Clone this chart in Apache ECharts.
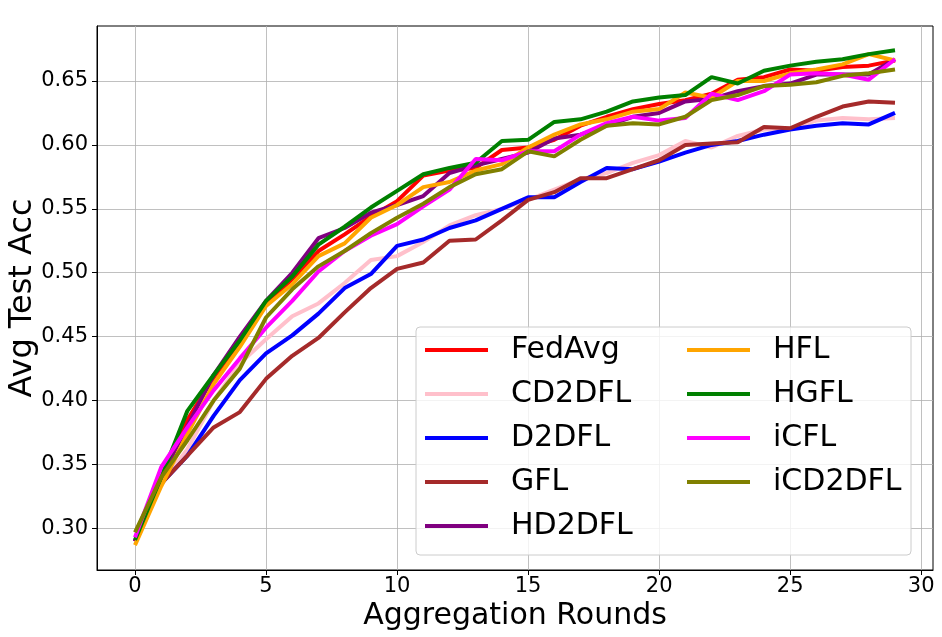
<!DOCTYPE html>
<html>
<head>
<meta charset="utf-8">
<script src="https://cdn.jsdelivr.net/npm/echarts@6/dist/echarts.min.js"></script>
<style>
  html, body { margin: 0; padding: 0; background: #fff; }
  #chart { width: 942px; height: 637px; }
</style>
</head>
<body>
<div id="chart"></div>
<script>
// rounds 0..29
var rounds = [];
for (var r = 0; r < 30; r++) rounds.push(r);

var fedAvg  = [0.290, 0.338, 0.385, 0.418, 0.446, 0.475, 0.495, 0.517, 0.530, 0.544, 0.556, 0.576, 0.580, 0.582, 0.596, 0.598, 0.604, 0.615, 0.622, 0.628, 0.632, 0.635, 0.640, 0.651, 0.653, 0.659, 0.658, 0.661, 0.662, 0.666];
var cd2dfl  = [0.290, 0.335, 0.362, 0.400, 0.429, 0.448, 0.466, 0.476, 0.492, 0.510, 0.513, 0.524, 0.537, 0.545, 0.550, 0.557, 0.565, 0.573, 0.578, 0.586, 0.592, 0.603, 0.598, 0.607, 0.612, 0.613, 0.619, 0.621, 0.620, 0.621];
var d2dfl   = [0.290, 0.335, 0.357, 0.388, 0.416, 0.437, 0.451, 0.468, 0.488, 0.499, 0.521, 0.526, 0.535, 0.541, 0.550, 0.559, 0.559, 0.571, 0.582, 0.581, 0.587, 0.594, 0.600, 0.603, 0.608, 0.612, 0.615, 0.617, 0.616, 0.625];
var gfl     = [0.290, 0.335, 0.357, 0.379, 0.391, 0.417, 0.435, 0.449, 0.469, 0.488, 0.503, 0.508, 0.525, 0.526, 0.541, 0.557, 0.563, 0.574, 0.574, 0.581, 0.588, 0.600, 0.601, 0.602, 0.614, 0.613, 0.622, 0.630, 0.634, 0.633];
var hd2dfl  = [0.290, 0.340, 0.380, 0.420, 0.450, 0.478, 0.500, 0.527, 0.535, 0.547, 0.553, 0.560, 0.578, 0.584, 0.589, 0.594, 0.605, 0.608, 0.615, 0.622, 0.625, 0.634, 0.636, 0.642, 0.646, 0.648, 0.655, 0.655, 0.655, 0.667];
var hfl     = [0.287, 0.333, 0.374, 0.413, 0.442, 0.474, 0.491, 0.513, 0.523, 0.543, 0.553, 0.567, 0.571, 0.580, 0.585, 0.598, 0.608, 0.616, 0.620, 0.626, 0.628, 0.641, 0.637, 0.650, 0.650, 0.656, 0.659, 0.663, 0.671, 0.666];
var hgfl    = [0.291, 0.340, 0.392, 0.420, 0.447, 0.478, 0.497, 0.522, 0.536, 0.551, 0.564, 0.577, 0.582, 0.586, 0.603, 0.604, 0.618, 0.620, 0.626, 0.634, 0.637, 0.639, 0.653, 0.648, 0.658, 0.662, 0.665, 0.667, 0.671, 0.674];
var icfl    = [0.293, 0.348, 0.379, 0.408, 0.433, 0.457, 0.478, 0.501, 0.517, 0.529, 0.538, 0.552, 0.565, 0.589, 0.588, 0.595, 0.595, 0.608, 0.617, 0.622, 0.619, 0.621, 0.640, 0.635, 0.642, 0.655, 0.656, 0.655, 0.651, 0.667];
var icd2dfl = [0.297, 0.340, 0.369, 0.400, 0.425, 0.465, 0.487, 0.505, 0.517, 0.531, 0.543, 0.554, 0.567, 0.577, 0.581, 0.595, 0.591, 0.604, 0.615, 0.617, 0.616, 0.622, 0.635, 0.639, 0.646, 0.647, 0.649, 0.654, 0.656, 0.659];

var names  = ['FedAvg', 'CD2DFL', 'D2DFL', 'GFL', 'HD2DFL', 'HFL', 'HGFL', 'iCFL', 'iCD2DFL'];
var values = [fedAvg, cd2dfl, d2dfl, gfl, hd2dfl, hfl, hgfl, icfl, icd2dfl];
var colors = ['#ff0000', '#ffc0cb', '#0000ff', '#a52a2a', '#800080', '#ffa500', '#008000', '#ff00ff', '#808000'];

var xTicks = [0, 5, 10, 15, 20, 25, 30];
var yTicks = [0.30, 0.35, 0.40, 0.45, 0.50, 0.55, 0.60, 0.65];

var FONT = 'DejaVu Sans';

var series = names.map(function (n, k) {
  return {
    name: n,
    type: 'line',
    symbol: 'none',
    color: colors[k],
    lineStyle: { width: 4, color: colors[k] },
    data: rounds.map(function (x, i) { return [x, values[k][i]]; })
  };
});

var legendText = { fontFamily: FONT, fontSize: 30, color: '#000', lineHeight: 30, padding: [0, 0, 0, 18] };

var chart = echarts.init(document.getElementById('chart'));
var option = {
  backgroundColor: '#fff',
  animation: false,
  grid: {
    left: 97, right: 9, top: 26, bottom: 67,
    outerBoundsMode: 'none', containLabel: false,
    show: true, borderColor: '#000', borderWidth: 1
  },
  xAxis: {
    type: 'value',
    min: -1.45, max: 30.45,
    minInterval: 5, maxInterval: 5,
    name: 'Aggregation Rounds',
    nameLocation: 'middle',
    nameGap: 31,
    nameMoveOverlap: false,
    nameTextStyle: { fontFamily: FONT, fontSize: 30, color: '#000' },
    axisLine: { onZero: false, lineStyle: { color: '#000', width: 1 } },
    axisTick: { show: true, inside: false, length: 5, customValues: xTicks, lineStyle: { color: '#000' } },
    axisLabel: { customValues: xTicks, fontFamily: FONT, fontSize: 21, color: '#000', margin: 6 },
    splitLine: { show: true, lineStyle: { color: '#b0b0b0', width: 0.8 } }
  },
  yAxis: {
    type: 'value',
    min: 0.2675, max: 0.693,
    minInterval: 0.05, maxInterval: 0.05,
    name: 'Avg Test Acc',
    nameLocation: 'middle',
    nameGap: 58,
    nameMoveOverlap: false,
    nameTextStyle: { fontFamily: FONT, fontSize: 32, color: '#000' },
    axisLine: { show: true, onZero: false, lineStyle: { color: '#000', width: 1 } },
    axisTick: { show: true, inside: false, length: 5, customValues: yTicks, lineStyle: { color: '#000' } },
    axisLabel: {
      customValues: yTicks, fontFamily: FONT, fontSize: 21, color: '#000', margin: 9,
      formatter: function (v) { return v.toFixed(2); }
    },
    splitLine: { show: true, lineStyle: { color: '#b0b0b0', width: 0.8 } }
  },
  graphic: {
    elements: [{
      type: 'rect',
      z: 10,
      shape: { x: 416, y: 327, width: 495, height: 228, r: 4 },
      style: { fill: 'rgba(255,255,255,0.8)', stroke: '#cccccc', lineWidth: 1 }
    }]
  },
  legend: [
    {
      z: 20, orient: 'vertical', left: 425, top: 335, padding: 0,
      icon: 'rect', itemWidth: 63, itemHeight: 4, itemGap: 14,
      data: names.slice(0, 5), textStyle: legendText
    },
    {
      z: 20, orient: 'vertical', left: 687, top: 335, padding: 0,
      icon: 'rect', itemWidth: 63, itemHeight: 4, itemGap: 14,
      data: names.slice(5), textStyle: legendText
    }
  ],
  series: series
};
chart.setOption(option);
</script>
</body>
</html>
